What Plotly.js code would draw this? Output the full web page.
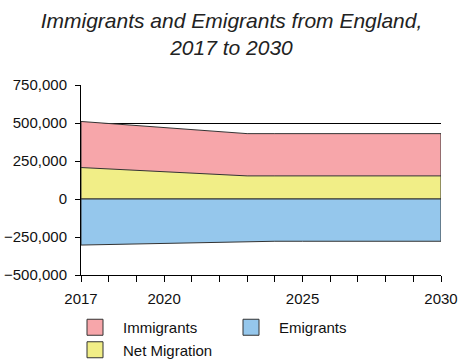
<!DOCTYPE html>
<html>
<head>
<meta charset="utf-8">
<script src="https://cdn.plot.ly/plotly-3.0.1.min.js"></script>
<style>html,body{margin:0;padding:0;background:#fff;}#chart{width:463px;height:360px;}</style>
</head>
<body>
<div id="chart"></div>
<script>
const years = [2017, 2018, 2019, 2020, 2021, 2022, 2023, 2024, 2025, 2026, 2027, 2028, 2029, 2030];
const immigrants = [510000, 497000, 483000, 470000, 457000, 443000, 430000, 430000, 430000, 430000, 430000, 430000, 430000, 430000];
const netMigration = [207000, 198000, 189000, 180000, 170000, 161000, 152000, 152000, 152000, 152000, 152000, 152000, 152000, 152000];
const emigrants = [-303000, -299000, -295000, -291000, -287000, -282000, -278000, -278000, -278000, -278000, -278000, -278000, -278000, -278000];
const xTickVals = years;
const xTickText = ["2017", "", "", "2020", "", "", "", "", "2025", "", "", "", "", "2030"];
const yTickVals = [-500000, -250000, 0, 250000, 500000, 750000];

const cPink = "#F7A6AA", cYellow = "#F1EE87", cBlue = "#95C7EC", cEdge = "#333333";

// closed polygon: series along the top, back along the zero baseline
function closedArea(xs, ys) {
  const backX = xs.slice().reverse();
  return {x: xs.concat(backX, [xs[0]]), y: ys.concat(backX.map(() => 0), [ys[0]])};
}
function areaTrace(ys, color) {
  const p = closedArea(years, ys);
  return {x: p.x, y: p.y, type: "scatter", mode: "lines", fill: "toself", fillcolor: color,
          line: {color: cEdge, width: 1}, showlegend: false, hoverinfo: "skip"};
}

const traces = [
  areaTrace(immigrants, cPink),
  areaTrace(netMigration, cYellow),
  areaTrace(emigrants, cBlue),
  {x: [null], y: [null], type: "scatter", mode: "markers", name: "Immigrants",
   marker: {symbol: "square", size: 16, color: cPink, line: {color: cEdge, width: 1}}},
  {x: [null], y: [null], type: "scatter", mode: "markers", name: "Emigrants",
   marker: {symbol: "square", size: 16, color: cBlue, line: {color: cEdge, width: 1}}},
  {x: [null], y: [null], type: "scatter", mode: "markers", name: "Net Migration",
   marker: {symbol: "square", size: 16, color: cYellow, line: {color: cEdge, width: 1}}}
];

const layout = {
  width: 463, height: 360,
  margin: {l: 81, r: 22, t: 85, b: 85},
  paper_bgcolor: "#fff", plot_bgcolor: "#fff",
  font: {family: "Liberation Sans, Arial, sans-serif", size: 15, color: "#111"},
  title: {text: "<i>Immigrants and Emigrants from England,<br>2017 to 2030</i>",
          font: {size: 21, color: "#222"}, x: 0.5, xanchor: "center", y: 0.922, yanchor: "top"},
  xaxis: {range: [2017, 2030], tickmode: "array", tickvals: xTickVals, ticktext: xTickText,
          ticks: "outside", ticklen: 6, tickcolor: "#000", showgrid: false, ticklabelstandoff: 4,
          showline: true, linecolor: "#000", linewidth: 1, zeroline: false, fixedrange: true},
  yaxis: {range: [-500000, 750000], tickmode: "array", tickvals: yTickVals, tickformat: ",d",
          ticks: "outside", ticklen: 5, tickcolor: "#000", showgrid: true, gridcolor: "#000", gridwidth: 1,
          ticklabelstandoff: 5,
          showline: true, linecolor: "#000", linewidth: 1, zeroline: true, zerolinecolor: "#000", zerolinewidth: 1, fixedrange: true},
  showlegend: true,
  legend: {orientation: "h", xref: "container", yref: "container", x: 67 / 463, xanchor: "left",
           y: 1 - 311 / 360, yanchor: "top",
           entrywidth: 95, entrywidthmode: "pixels", itemwidth: 46, traceorder: "normal",
           font: {size: 15, color: "#111"}, bgcolor: "rgba(0,0,0,0)"}
};

Plotly.newPlot("chart", traces, layout, {staticPlot: true, displayModeBar: false});
</script>
</body>
</html>
